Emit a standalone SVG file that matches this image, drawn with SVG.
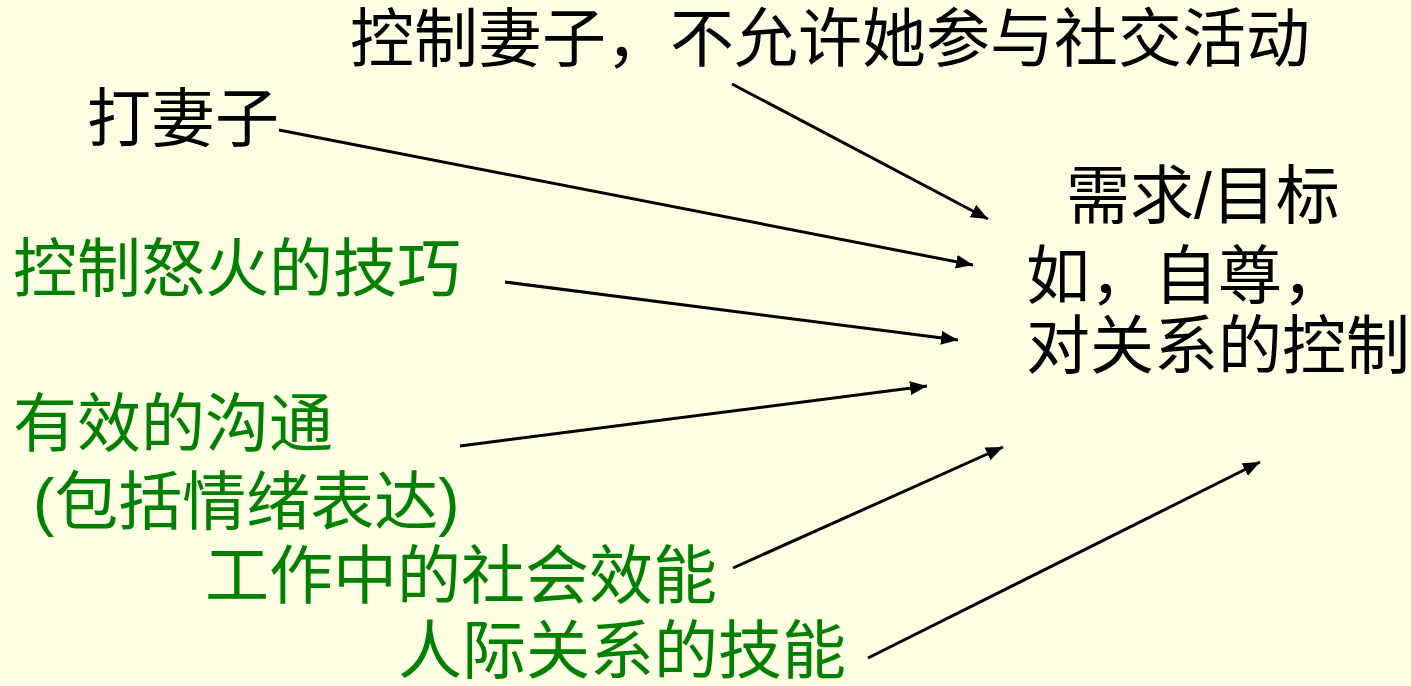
<svg xmlns="http://www.w3.org/2000/svg" width="1411" height="686" viewBox="0 0 1411 686">
<style>
text{font-family:"Liberation Sans","Noto Sans CJK SC",sans-serif;font-size:64px}
.k{fill:#000}
.g{fill:#008000}
.c line{stroke:#000;stroke-width:3;marker-end:url(#ah)}
</style>
<defs>
<marker id="ah" markerUnits="userSpaceOnUse" markerWidth="18" markerHeight="14" refX="17" refY="7" orient="auto">
<path d="M0,0 L17,7 L0,14 z" fill="#000"/>
</marker>
</defs>
<rect width="1411" height="686" fill="#FFFFE3"/>
<g id="n-control-wife"><text class="k" x="350" y="61">控制妻子，不允许她参与社交活动</text></g>
<g id="n-hit-wife"><text class="k" x="87" y="141">打妻子</text></g>
<g id="n-goal">
<text class="k" x="1066" y="218">需求/目标</text>
<text class="k" x="1026" y="298">如，自尊，</text>
<text class="k" x="1026" y="368">对关系的控制</text>
</g>
<g id="n-anger"><text class="g" x="13" y="291">控制怒火的技巧</text></g>
<g id="n-comm">
<text class="g" x="13" y="446">有效的沟通</text>
<text class="g" x="33" y="524">(包括情绪表达)</text>
</g>
<g id="n-work"><text class="g" x="205" y="598">工作中的社会效能</text></g>
<g id="n-inter"><text class="g" x="398" y="673">人际关系的技能</text></g>
<g id="connectors" class="c">
<line x1="732" y1="84" x2="988" y2="219"/>
<line x1="279" y1="130" x2="973" y2="265"/>
<line x1="505" y1="282" x2="958" y2="340"/>
<line x1="460" y1="446" x2="927" y2="386"/>
<line x1="733" y1="568" x2="1003" y2="447"/>
<line x1="868" y1="658" x2="1260" y2="462"/>
</g>
</svg>
